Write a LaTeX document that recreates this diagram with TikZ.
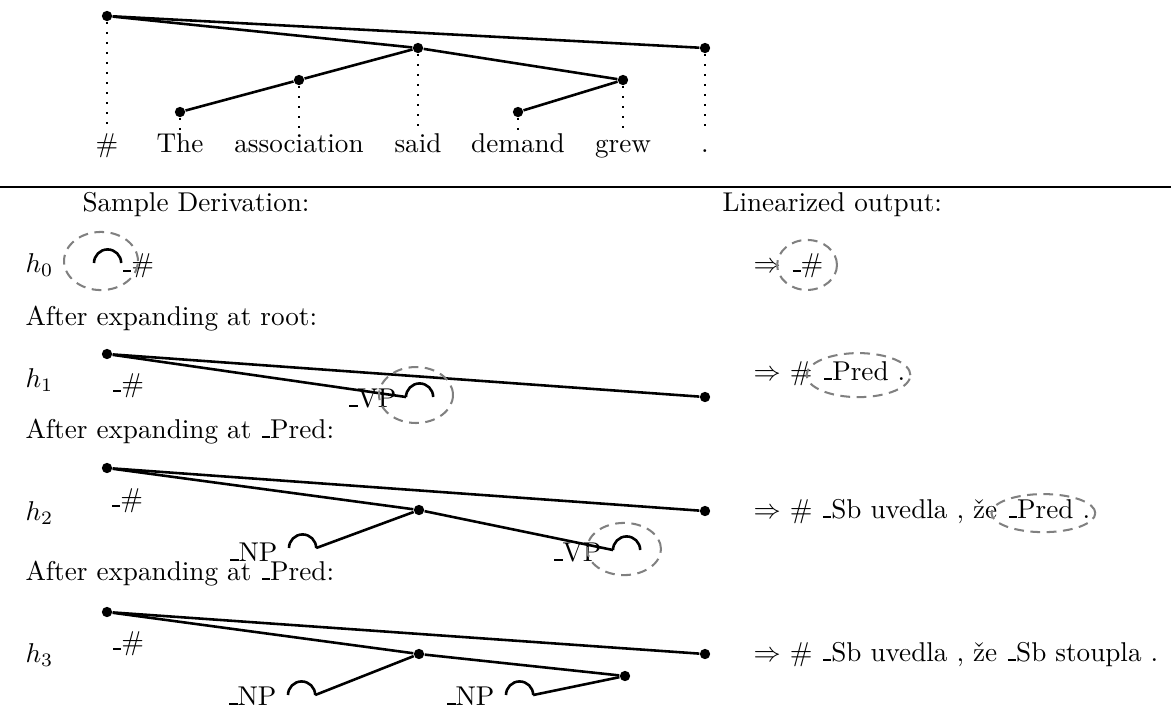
\documentclass[tikz,border=0pt]{standalone}
\usetikzlibrary{positioning}
\newcommand{\uscore}{\leavevmode\kern.06em\vbox{\hrule width .3em height .6pt}}

\begin{document}
\begin{tikzpicture}[x=0.368pt, y=-0.368pt, every node/.style={inner sep=0pt},
  dot/.style={circle, fill, inner sep=0pt, minimum size=3.8pt},
  link/.style={line width=0.95pt},
  proj/.style={line width=0.8pt, dash pattern=on 0.8pt off 2.9pt},
  slot/.style={line width=0.95pt},
  focus/.style={draw=gray, line width=0.75pt, dash pattern=on 3.6pt off 2.4pt},
  word/.style={anchor=base},
  lbl/.style={anchor=base west}]
  \useasboundingbox (0,0) rectangle (1171,708);
  % Dependency tree of the sentence
  \node[dot] (r)      at (107,16)  {};
  \node[dot] (said)   at (418,48)  {};
  \node[dot] (stop)   at (705,48)  {};
  \node[dot] (assoc)  at (299,80)  {};
  \node[dot] (grew)   at (623,80)  {};
  \node[dot] (the)    at (180,112) {};
  \node[dot] (demand) at (518,112) {};
  \draw[link] (r) -- (said);
  \draw[link] (r) -- (stop);
  \draw[link] (said) -- (assoc);
  \draw[link] (said) -- (grew);
  \draw[link] (assoc) -- (the);
  \draw[link] (grew) -- (demand);
  \node[word] (w0) at (107,152) {\#};
  \node[word] (w1) at (180,152) {The};
  \node[word] (w2) at (299,152) {association};
  \node[word] (w3) at (418,152) {said};
  \node[word] (w4) at (518,152) {demand};
  \node[word] (w5) at (623,152) {grew};
  \node[word] (w6) at (705,152) {.};
  \coordinate (foot) at (0,130);
  \foreach \d in {r,the,assoc,said,demand,grew,stop}
    \draw[proj] (\d) -- (\d |- foot);
  % Separator and column titles
  \coordinate (ruleL) at (0,187);
  \coordinate (ruleR) at (1171,187);
  \draw[line width=0.9pt] (ruleL) -- (ruleR);
  \node[lbl] (sd) at (82,211)  {Sample Derivation:};
  \node[lbl] (lo) at (722,211) {Linearized output:};
  % h0
  \node[lbl] (h0) at (25,272) {$h_0$};
  \coordinate (s0) at (94,263);
  \draw[slot] (s0) arc[start angle=180, end angle=0, radius=5pt];
  \node[lbl] (k0) at (121,272) {\uscore\#};
  \draw[focus] (101,261) ellipse [x radius=13.6pt, y radius=10.7pt];
  \node[lbl] (o0a) at (753,272) {$\Rightarrow$};
  \node[lbl] (o0b) at ([xshift=3.33pt]o0a.base east) {\uscore\#};
  \draw[focus] ([yshift=2.6pt]o0b.base) ellipse [x radius=11pt, y radius=9.2pt];
  \node[lbl] (after1) at (25,325) {After expanding at root:};
  % h1
  \node[lbl] (h1) at (25,387) {$h_1$};
  \node[dot] (r1)    at (107,354) {};
  \node[dot] (stop1) at (705,397) {};
  \node[lbl] (k1) at (111,392) {\uscore\#};
  \coordinate (vp1) at (406,397);
  \draw[slot] (vp1) arc[start angle=180, end angle=0, radius=5pt];
  \node[anchor=base east] (t1) at (397,407) {\uscore VP};
  \draw[link] (r1) -- (stop1);
  \draw[link] (r1) -- (vp1);
  \draw[focus] (416,395) ellipse [x radius=13.6pt, y radius=10.3pt];
  \node[lbl] (o1a) at (753,380) {$\Rightarrow$ \#};
  \node[lbl] (o1b) at ([xshift=3.33pt]o1a.base east) {\uscore Pred .};
  \draw[focus] ([xshift=-2pt, yshift=1.8pt]o1b.base) ellipse [x radius=19.1pt, y radius=8.1pt];
  \node[lbl] (after2) at (25,438) {After expanding at \uscore Pred:};
  % h2
  \node[lbl] (h2) at (25,520) {$h_2$};
  \node[dot] (r2)    at (107,468) {};
  \node[dot] (m2)    at (419,510) {};
  \node[dot] (stop2) at (705,511) {};
  \node[lbl] (k2) at (110,507) {\uscore\#};
  \coordinate (np2) at (289,548);
  \draw[slot] (np2) arc[start angle=180, end angle=0, radius=5pt] coordinate (np2r);
  \node[anchor=base east] (t2a) at (278,561) {\uscore NP};
  \coordinate (vp2) at (613,550);
  \draw[slot] (vp2) arc[start angle=180, end angle=0, radius=5pt];
  \node[anchor=base east] (t2b) at (602,561) {\uscore VP};
  \draw[link] (r2) -- (stop2);
  \draw[link] (r2) -- (m2);
  \draw[link] (m2) -- (np2r);
  \draw[link] (m2) -- (vp2);
  \draw[focus] (624,549) ellipse [x radius=13.6pt, y radius=9.6pt];
  \node[lbl] (o2a) at (753,518) {$\Rightarrow$ \# \uscore Sb uvedla , že};
  \node[lbl] (o2b) at ([xshift=3.33pt]o2a.base east) {\uscore Pred .};
  \draw[focus] ([xshift=-2pt, yshift=1.8pt]o2b.base) ellipse [x radius=19.1pt, y radius=7pt];
  \node[lbl] (after3) at (25,580) {After expanding at \uscore Pred:};
  % h3
  \node[lbl] (h3) at (25,662) {$h_3$};
  \node[dot] (r3)    at (107,612) {};
  \node[dot] (m3)    at (419,654) {};
  \node[dot] (g3)    at (625,676) {};
  \node[dot] (stop3) at (705,654) {};
  \node[lbl] (k3) at (111,650) {\uscore\#};
  \coordinate (np3) at (288,695);
  \draw[slot] (np3) arc[start angle=180, end angle=0, radius=5pt] coordinate (np3r);
  \node[anchor=base east] (t3a) at (277,705) {\uscore NP};
  \coordinate (np4) at (506,695);
  \draw[slot] (np4) arc[start angle=180, end angle=0, radius=5pt] coordinate (np4r);
  \node[anchor=base east] (t3b) at (495,705) {\uscore NP};
  \draw[link] (r3) -- (stop3);
  \draw[link] (r3) -- (m3);
  \draw[link] (m3) -- (np3r);
  \draw[link] (m3) -- (g3);
  \draw[link] (g3) -- (np4r);
  \node[lbl] (o3) at (753,661) {$\Rightarrow$ \# \uscore Sb uvedla , že \uscore Sb stoupla .};
\end{tikzpicture}
\end{document}
